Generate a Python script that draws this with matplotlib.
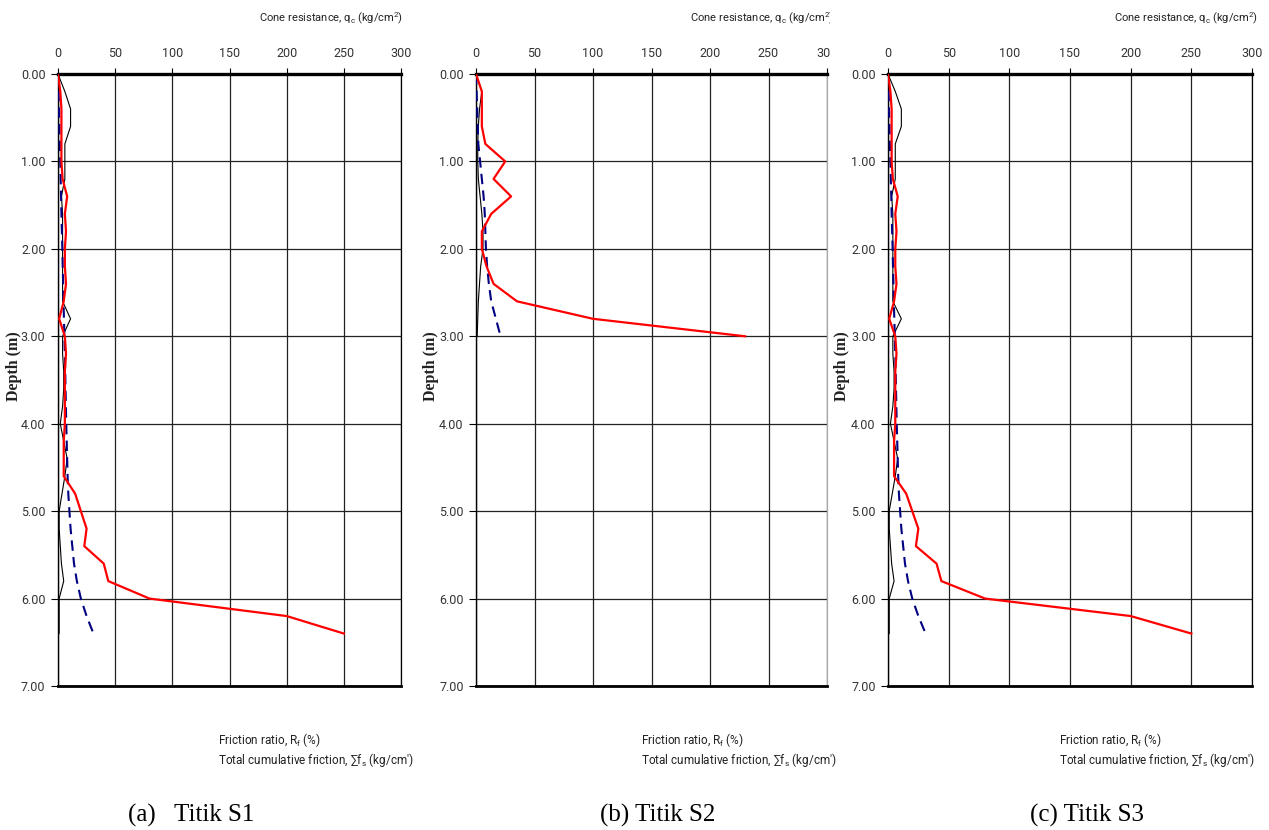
import matplotlib
matplotlib.use("Agg")
import matplotlib.pyplot as plt
from matplotlib import font_manager
from matplotlib.transforms import Bbox, TransformedBbox

# ---------------- data ----------------
depth_s1 = [0.0, 0.2, 0.4, 0.6, 0.8, 1.0, 1.2, 1.4, 1.6, 1.8, 2.0, 2.2, 2.4, 2.6, 2.8, 3.0,
            3.2, 3.4, 3.6, 3.8, 4.0, 4.2, 4.4, 4.6, 4.8, 5.0, 5.2, 5.4, 5.6, 5.8, 6.0, 6.2, 6.4]
qc_s1 = [0, 2, 3, 3, 3, 3, 4, 8, 6, 7, 6, 6, 7, 5, 1, 6,
         7, 6, 6, 6, 6, 5, 5, 5, 15, 20, 25, 23, 40, 44, 80, 200, 250]
rf_s1 = [0, 6, 11, 11, 6, 6, 6, 3, 4, 4, 4, 4, 4, 4, 11, 4,
         4, 5, 5, 4, 2, 5, 8, 6, 3.5, 1, 1, 2, 3, 5, 1, 1, 1]
fs_s1 = [0, 0.5, 0.8, 1.2, 1.5, 2, 2.3, 2.7, 3, 3.4, 3.8, 4.1, 4.5, 4.8, 5.2, 5.6,
         6, 6.3, 6.6, 6.9, 7.2, 7.6, 8, 8.4, 9, 10, 11, 12.5, 14, 16.5, 20, 25, 31]

depth_s2 = [0.0, 0.2, 0.4, 0.6, 0.8, 1.0, 1.2, 1.4, 1.6, 1.8, 2.0, 2.2, 2.4, 2.6, 2.8, 3.0]
qc_s2 = [0, 5, 5, 5, 8, 25, 15, 30, 13, 5, 5, 9, 15, 35, 100, 230]
rf_s2 = [0, 5, 3, 2, 1.5, 1.5, 2, 3.5, 5, 6, 6, 4, 3, 2, 1.5, 1]
fs_s2 = [0, 0.5, 1, 1.5, 2, 3.5, 5, 6.5, 7.5, 8, 8.5, 9.5, 11, 13, 17, 21]

depth_s3 = list(depth_s1)
qc_s3 = list(qc_s1)
rf_s3 = list(rf_s1)
fs_s3 = list(fs_s1)

x_ticks = [0, 50, 100, 150, 200, 250, 300]
y_ticks = [0, 1, 2, 3, 4, 5, 6, 7]
captions = ["(a)   Titik S1", "(b) Titik S2", "(c) Titik S3"]
top_label = r"Cone resistance, q$_\mathrm{c}$ (kg/cm$^\mathrm{2}$)"
bot_label1 = r"Friction ratio, R$_\mathrm{f}$ (%)"
bot_label2 = "Total cumulative friction, \u2211f$_\\mathrm{s}$ (kg/cm')"

# ---------------- fonts ----------------
def have(name):
    try:
        font_manager.findfont(name, fallback_to_default=False)
        return True
    except Exception:
        return False

narrow = "Roboto" if have("Roboto") else "DejaVu Sans"
plt.rcParams["font.family"] = [narrow, "DejaVu Sans"]
plt.rcParams["mathtext.fontset"] = "custom"
plt.rcParams["mathtext.rm"] = narrow
plt.rcParams["mathtext.it"] = narrow + ":italic"
plt.rcParams["mathtext.bf"] = narrow + ":bold"

W, H = 1269, 830
fig = plt.figure(figsize=(W / 100, H / 100), dpi=100)

def fx(px):
    return px / W

def fy(py):
    return 1 - py / H

# left, right, data..., bottom-label x, caption x, title right x
panels = [
    (58, 401, depth_s1, qc_s1, rf_s1, fs_s1, 218, 128, 403),
    (476, 827, depth_s2, qc_s2, rf_s2, fs_s2, 641, 600, 834),
    (888, 1252, depth_s3, qc_s3, rf_s3, fs_s3, 1059, 1030, 1258),
]
top_px, bot_px = 74, 686
tick_color = "#333333"
lab_color = "#222222"

for i, (l, r, d, qc, rf, fs, blx, capx, tx) in enumerate(panels):
    ax = fig.add_axes([fx(l), fy(bot_px), fx(r - l), (bot_px - top_px) / H])
    ax.set_xlim(0, 300)
    ax.set_ylim(7, 0)
    ax.set_xticks(x_ticks)
    ax.set_yticks(y_ticks)
    ax.set_yticklabels([f"{v:.2f}" for v in y_ticks])
    ax.xaxis.tick_top()
    ax.tick_params(axis="x", direction="out", length=4, width=0.8, labelsize=9,
                   labelcolor=tick_color, pad=6)
    ax.tick_params(axis="y", direction="out", length=5, width=0.8, labelsize=9,
                   labelcolor=tick_color, pad=4)
    ax.grid(True, color="#222222", linewidth=0.9)
    ax.set_axisbelow(True)
    ax.spines["top"].set_linewidth(2.4)
    ax.spines["bottom"].set_linewidth(2.0)
    ax.spines["left"].set_linewidth(1.0)
    ax.spines["right"].set_linewidth(0.9)
    if i == 1:
        ax.spines["right"].set_color("#aaaaaa")

    ax.plot(rf, d, color="black", linewidth=0.8, zorder=3)
    ax.plot(fs, d, color="#000080", linewidth=1.5, dashes=(5, 3), zorder=4)
    ax.plot(qc, d, color="#ff0000", linewidth=1.6, zorder=5)

    t = fig.text(fx(tx), fy(18), top_label, ha="right", va="center", fontsize=8,
                 color=lab_color)
    fig.text(fx(blx), fy(740), bot_label1, ha="left", va="center", fontsize=8.5,
             color=lab_color)
    fig.text(fx(blx), fy(760), bot_label2, ha="left", va="center", fontsize=8.5,
             color=lab_color)
    fig.text(fx(capx), fy(815), captions[i], ha="left", va="center", fontsize=18,
             family="Liberation Serif")

    if i == 1:
        clip = TransformedBbox(Bbox.from_extents(0, 0, fx(830), 1), fig.transFigure)
        t.set_clip_box(clip)
        t.set_clip_on(True)
        for tk in ax.xaxis.get_major_ticks():
            for lab in (tk.label1, tk.label2):
                lab.set_clip_box(clip)
                lab.set_clip_on(True)

for xpos in (14, 431, 842):
    fig.text(fx(xpos), fy(366), "Depth (m)", rotation=90, ha="center", va="center",
             fontsize=11.5, family="Liberation Serif", fontweight="bold",
             color=lab_color)

fig.savefig("out.png", dpi=100)
